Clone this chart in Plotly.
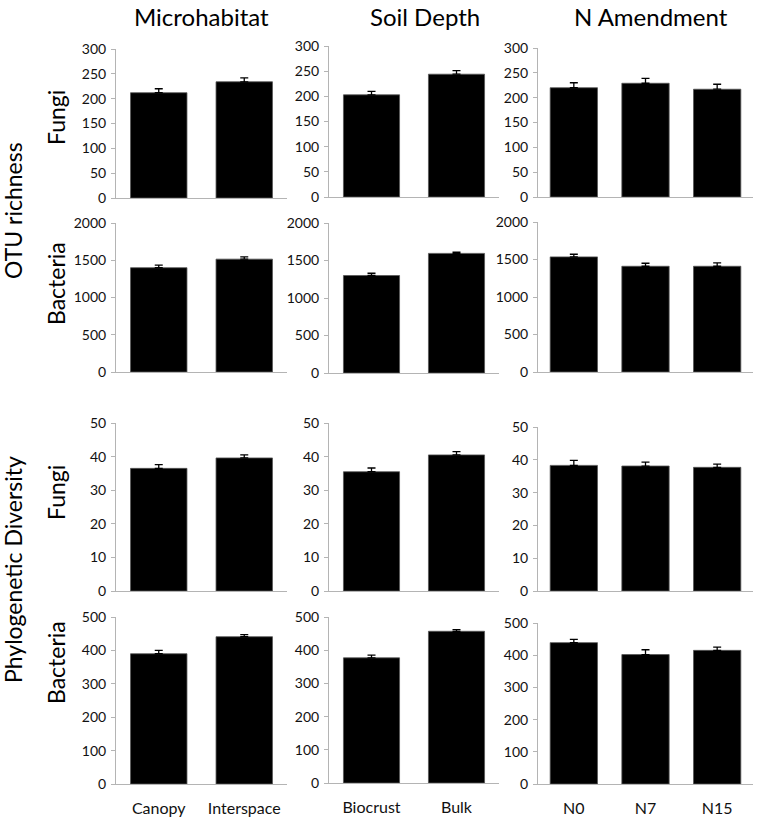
import plotly.graph_objects as go

# categories per column
microhabitat = ["Canopy", "Interspace"]
soil_depth = ["Biocrust", "Bulk"]
n_amendment = ["N0", "N7", "N15"]

# OTU richness - fungi
otu_fungi_micro = [212, 234]
otu_fungi_micro_se = [8, 8]
otu_fungi_depth = [203, 244]
otu_fungi_depth_se = [7, 7]
otu_fungi_n = [220, 229, 217]
otu_fungi_n_se = [10, 10, 10]

# OTU richness - bacteria
otu_bact_micro = [1400, 1515]
otu_bact_micro_se = [35, 30]
otu_bact_depth = [1300, 1595]
otu_bact_depth_se = [30, 15]
otu_bact_n = [1535, 1410, 1410]
otu_bact_n_se = [35, 40, 45]

# phylogenetic diversity - fungi
pd_fungi_micro = [36.5, 39.6]
pd_fungi_micro_se = [1.1, 0.9]
pd_fungi_depth = [35.5, 40.5]
pd_fungi_depth_se = [1.1, 1.0]
pd_fungi_n = [38.3, 38.1, 37.7]
pd_fungi_n_se = [1.5, 1.2, 1.0]

# phylogenetic diversity - bacteria
pd_bact_micro = [390, 441]
pd_bact_micro_se = [10, 6]
pd_bact_depth = [377, 457]
pd_bact_depth_se = [8, 5]
pd_bact_n = [439, 402, 415]
pd_bact_n_se = [10, 15, 10]

y_max = [300, 2000, 50, 500]
y_step = [50, 500, 10, 100]

cats = [microhabitat, soil_depth, n_amendment]
rows = [
    [(otu_fungi_micro, otu_fungi_micro_se), (otu_fungi_depth, otu_fungi_depth_se), (otu_fungi_n, otu_fungi_n_se)],
    [(otu_bact_micro, otu_bact_micro_se), (otu_bact_depth, otu_bact_depth_se), (otu_bact_n, otu_bact_n_se)],
    [(pd_fungi_micro, pd_fungi_micro_se), (pd_fungi_depth, pd_fungi_depth_se), (pd_fungi_n, pd_fungi_n_se)],
    [(pd_bact_micro, pd_bact_micro_se), (pd_bact_depth, pd_bact_depth_se), (pd_bact_n, pd_bact_n_se)],
]

W, H = 757, 819
FONT = "Lato"
AXIS_COL = "#b4b4b4"

# pixel boxes (left, right) per column and (top, bottom) per row/column
col_x = [(116, 287), (329, 499), (538, 753)]
row_y = [
    [(49, 198), (46, 197), (48, 197)],
    [(223, 372), (223, 373), (222, 372)],
    [(423, 591), (423, 591), (427, 591)],
    [(617, 784), (617, 783), (623, 784)],
]


def px_x(v):
    return v / W


def px_y(v):
    return 1 - v / H


fig = go.Figure()
layout = {}
n = 0
for r, row in enumerate(rows):
    for c, (vals, se) in enumerate(row):
        n += 1
        xa = "x" if n == 1 else f"x{n}"
        ya = "y" if n == 1 else f"y{n}"
        fig.add_trace(go.Bar(
            x=cats[c], y=vals, xaxis=xa, yaxis=ya,
            marker=dict(color="black", line=dict(color="#555555", width=0.8)),
            error_y=dict(type="data", array=se, arrayminus=[0] * len(se), symmetric=False,
                         color="black", thickness=1.3, width=4),
            showlegend=False,
        ))
        x0, x1 = col_x[c]
        t, b = row_y[r][c]
        key = "" if n == 1 else str(n)
        layout["xaxis" + key] = dict(
            domain=[px_x(x0), px_x(x1)], anchor=ya, showline=True, linecolor=AXIS_COL,
            linewidth=1, ticks="", showgrid=False, showticklabels=(r == 3),
            ticklabelstandoff=10, automargin=False,
            tickfont=dict(size=16, color="#111111", family=FONT), fixedrange=True,
        )
        layout["yaxis" + key] = dict(
            domain=[px_y(b), px_y(t)], anchor=xa, range=[0, y_max[r]], dtick=y_step[r],
            tick0=0, showline=True, linecolor=AXIS_COL, linewidth=1, ticks="outside",
            ticklen=4, tickcolor=AXIS_COL, showgrid=False, zeroline=False,
            ticklabelstandoff=2, automargin=False,
            tickfont=dict(size=14, color="#111111", family=FONT),
        )

annots = []
for text, xc in [("Microhabitat", 201), ("Soil Depth", 425), ("N Amendment", 651)]:
    annots.append(dict(text=text, x=px_x(xc), y=px_y(16), font=dict(size=24, family=FONT, color="black")))
for text, yc in [("OTU richness", 211), ("Phylogenetic Diversity", 570)]:
    annots.append(dict(text=text, x=px_x(13), y=px_y(yc), textangle=-90,
                       font=dict(size=23, family=FONT, color="black")))
for text, yc in [("Fungi", 118), ("Bacteria", 284), ("Fungi", 493), ("Bacteria", 663)]:
    annots.append(dict(text=text, x=px_x(56), y=px_y(yc), textangle=-90,
                       font=dict(size=23, family=FONT, color="black")))
for a in annots:
    a.update(xref="paper", yref="paper", xanchor="center", yanchor="middle", showarrow=False)

fig.update_layout(
    width=W, height=H, margin=dict(l=0, r=0, t=0, b=0, autoexpand=False),
    paper_bgcolor="white", plot_bgcolor="white",
    bargap=0.34, annotations=annots, **layout,
)

fig.write_html(
    "out.html",
    config={"displayModeBar": False},
    post_script="document.body.style.margin='0';"
                "document.body.style.overflow='hidden';"
                "document.documentElement.style.overflow='hidden';",
)
